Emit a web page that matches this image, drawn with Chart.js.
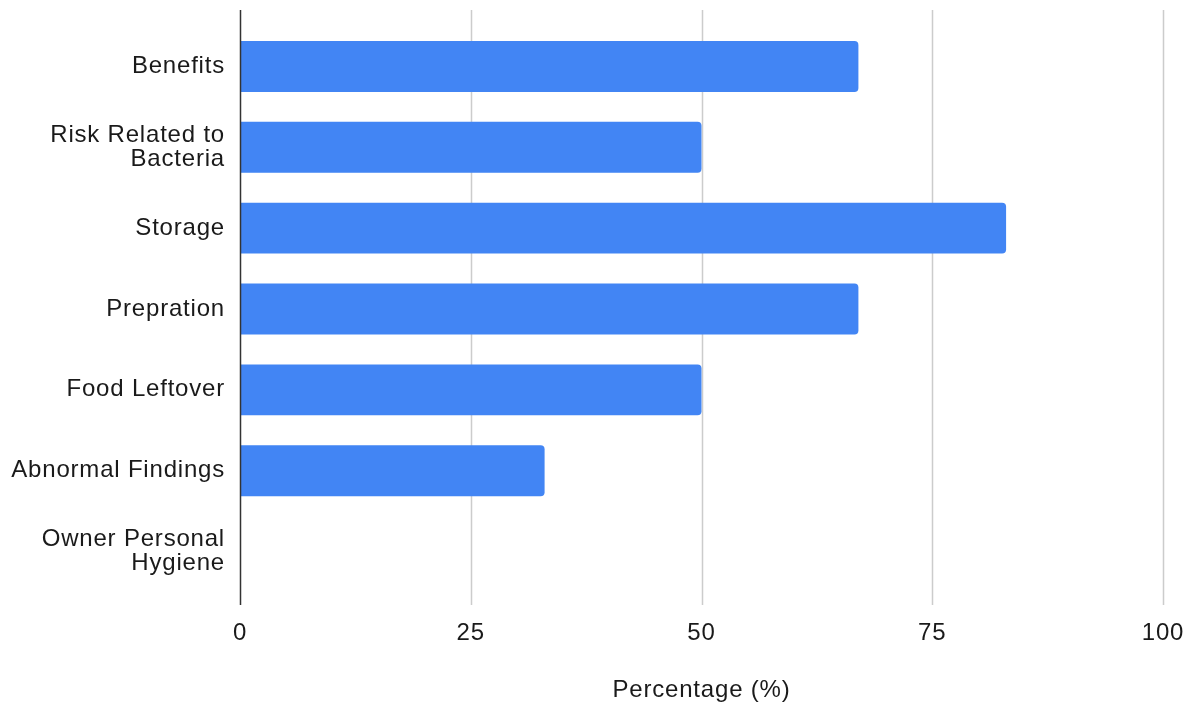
<!DOCTYPE html>
<html>
<head>
<meta charset="utf-8">
<script src="https://cdn.jsdelivr.net/npm/chart.js@4.4.1/dist/chart.umd.min.js"></script>
<style>
  html, body { margin: 0; padding: 0; background: #fff; }
  #wrap { width: 1198px; height: 709px; position: relative; }
</style>
</head>
<body>
<div id="wrap"><canvas id="grafico"></canvas></div>
<script>
// --- datos ---
const categorias = [
    'Benefits',
    ['Risk Related to', 'Bacteria'],
    'Storage',
    'Prepration',
    'Food Leftover',
    'Abnormal Findings',
    ['Owner Personal', 'Hygiene']
];
const porcentajes = [67, 50, 83, 67, 50, 33, 0];
const ticksX = [0, 25, 50, 75, 100];
const tituloX = 'Percentage (%)';

const fuente = { family: "Arial, 'Liberation Sans', sans-serif", size: 24 };

// lineas de grilla que sobresalen del area (estilo Google Charts)
const grillaExtendida = {
    id: 'grillaExtendida',
    beforeDraw(chart) {
        chart.ctx.letterSpacing = '0.8px';
    },
    beforeDatasetsDraw(chart) {
        const { ctx, chartArea, scales } = chart;
        const top = chartArea.top - 16, bottom = chartArea.bottom + 13;
        ctx.save();
        ctx.strokeStyle = '#cccccc';
        ctx.lineWidth = 1.5;
        ticksX.forEach(v => {
            if (v === 0) return;
            const x = Math.round(scales.x.getPixelForValue(v)) + 0.5;
            ctx.beginPath();
            ctx.moveTo(x, top);
            ctx.lineTo(x, bottom);
            ctx.stroke();
        });
        ctx.restore();
    },
    afterDatasetsDraw(chart) {
        const { ctx, chartArea, scales } = chart;
        const x = Math.round(scales.x.getPixelForValue(0)) + 0.5;
        ctx.save();
        ctx.strokeStyle = '#333333';
        ctx.lineWidth = 1.5;
        ctx.beginPath();
        ctx.moveTo(x, chartArea.top - 16);
        ctx.lineTo(x, chartArea.bottom + 13);
        ctx.stroke();
        ctx.restore();
    }
};

new Chart(document.getElementById('grafico'), {
    type: 'bar',
    data: {
        labels: categorias,
        datasets: [{
            data: porcentajes,
            backgroundColor: '#4285F4',
            borderRadius: 4,
            barPercentage: 0.63,
            categoryPercentage: 1
        }]
    },
    options: {
        indexAxis: 'y',
        responsive: true,
        maintainAspectRatio: false,
        animation: false,
        layout: { padding: { top: 26, right: 35, left: 0, bottom: 0 } },
        plugins: {
            legend: { display: false },
            tooltip: { enabled: false }
        },
        scales: {
            x: {
                min: 0,
                max: 100,
                afterBuildTicks: (scale) => { scale.ticks = ticksX.map(v => ({ value: v })); },
                afterFit: (scale) => {
                    scale.height = 117;
                    scale.paddingLeft = 0;
                    scale.paddingRight = 0;
                },
                grid: { display: false, drawTicks: false },
                border: { display: false },
                ticks: {
                    color: '#1a1a1a',
                    font: fuente,
                    padding: 27
                },
                title: {
                    display: true,
                    text: tituloX,
                    color: '#1a1a1a',
                    font: fuente,
                    padding: { top: 35 }
                }
            },
            y: {
                afterFit: (scale) => {
                    scale.width = 240;
                    scale.paddingTop = 0;
                    scale.paddingBottom = 0;
                },
                grid: { display: false, drawTicks: false },
                border: { display: false },
                ticks: {
                    color: '#1a1a1a',
                    font: { ...fuente, lineHeight: 1.0 },
                    padding: 15
                }
            }
        }
    },
    plugins: [grillaExtendida]
});
</script>
</body>
</html>
